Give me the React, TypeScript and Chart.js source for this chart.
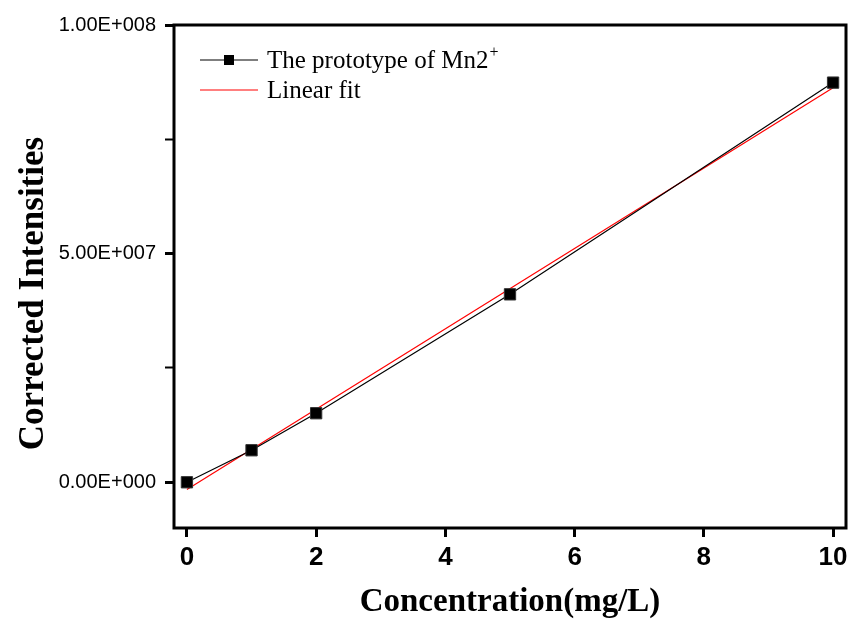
import { useEffect, useRef } from "react";
import { Chart, registerables } from "chart.js";

Chart.register(...registerables);

const concentrations = [0, 1, 2, 5, 10];
const intensities = [0, 7.0e6, 1.51e7, 4.11e7, 8.74e7];
const fitX = [0, 10];
const fitY = [-1.6e6, 8.63e7];
const xTicks = [0, 2, 4, 6, 8, 10];
const yTicks = [0, 2.5e7, 5e7, 7.5e7, 1e8];
const yLabeled = [0, 5e7, 1e8];
const seriesLabel = "The prototype of Mn2";
const seriesSup = "+";
const fitLabel = "Linear fit";
const xTitle = "Concentration(mg/L)";
const yTitle = "Corrected Intensities";

function fmtE(v: number): string {
  if (v === 0) return "0.00E+000";
  const exp = Math.floor(Math.log10(Math.abs(v)) + 1e-9);
  const mant = v / Math.pow(10, exp);
  return mant.toFixed(2) + "E" + (exp >= 0 ? "+" : "-") + String(Math.abs(exp)).padStart(3, "0");
}

const framePlugin = {
  id: "frameAndLegend",
  afterDraw(chart: any) {
    const { ctx, chartArea } = chart;
    const { left, top, right, bottom } = chartArea;
    ctx.save();
    ctx.strokeStyle = "#000";
    ctx.lineWidth = 3;
    ctx.strokeRect(left, top, right - left, bottom - top);

    const lx0 = left + 26;
    const lx1 = left + 84;
    const r1 = top + 35;
    const r2 = top + 65;
    ctx.lineWidth = 1.2;
    ctx.strokeStyle = "#000";
    ctx.beginPath();
    ctx.moveTo(lx0, r1);
    ctx.lineTo(lx1, r1);
    ctx.stroke();
    const mx = (lx0 + lx1) / 2;
    ctx.fillStyle = "#000";
    ctx.fillRect(mx - 5, r1 - 5, 10, 10);
    ctx.strokeStyle = "#ff0000";
    ctx.beginPath();
    ctx.moveTo(lx0, r2);
    ctx.lineTo(lx1, r2);
    ctx.stroke();

    ctx.fillStyle = "#000";
    ctx.font = "25px 'Liberation Serif'";
    ctx.textAlign = "left";
    ctx.textBaseline = "alphabetic";
    const tx = lx1 + 9;
    ctx.fillText(seriesLabel, tx, r1 + 8);
    const w = ctx.measureText(seriesLabel).width;
    ctx.font = "16px 'Liberation Serif'";
    ctx.fillText(seriesSup, tx + w + 1, r1 - 3);
    ctx.font = "25px 'Liberation Serif'";
    ctx.fillText(fitLabel, tx, r2 + 8);

    ctx.translate(43, (top + bottom) / 2 + 17);
    ctx.rotate(-Math.PI / 2);
    ctx.font = "bold 35px 'Liberation Serif'";
    ctx.textAlign = "center";
    ctx.fillText(yTitle, 0, 0);
    ctx.restore();
  },
};

export default function App() {
  const ref = useRef<HTMLCanvasElement | null>(null);
  useEffect(() => {
    if (!ref.current) return;
    const chart = new Chart(ref.current, {
      type: "scatter",
      data: {
        datasets: [
          {
            label: "data",
            data: concentrations.map((x, i) => ({ x, y: intensities[i] })),
            showLine: true,
            borderColor: "#000",
            borderWidth: 1.2,
            pointStyle: "rect",
            pointRadius: 8,
            pointBackgroundColor: "#000",
            pointBorderColor: "#333",
            pointBorderWidth: 1,
            order: 0,
          },
          {
            label: "fit",
            data: fitX.map((x, i) => ({ x, y: fitY[i] })),
            showLine: true,
            borderColor: "#ff0000",
            borderWidth: 1.2,
            pointRadius: 0,
            order: 1,
          },
        ],
      },
      options: {
        animation: false,
        responsive: false,
        layout: { padding: { left: 0, top: 25, right: 8, bottom: 0 } },
        plugins: { legend: { display: false }, tooltip: { enabled: false } },
        scales: {
          x: {
            type: "linear",
            min: -0.2,
            max: 10.2,
            afterFit: (s: any) => {
              s.height = 105;
            },
            afterBuildTicks: (s: any) => {
              s.ticks = xTicks.map((v) => ({ value: v }));
            },
            border: { display: false },
            grid: {
              drawOnChartArea: false,
              drawTicks: true,
              tickLength: 9,
              tickWidth: 3,
              tickColor: "#000",
            },
            ticks: {
              color: "#000",
              padding: 5,
              font: { family: "'Liberation Sans'", size: 26, weight: "bold" },
              callback: (v: any) => String(v),
            },
            title: {
              display: true,
              text: xTitle,
              color: "#000",
              font: { family: "'Liberation Serif'", size: 33, weight: "bold" },
              padding: { top: 0, bottom: 11 },
            },
          },
          y: {
            type: "linear",
            min: -1e7,
            max: 1e8,
            afterFit: (s: any) => {
              s.width = 174;
            },
            afterBuildTicks: (s: any) => {
              s.ticks = yTicks.map((v) => ({ value: v }));
            },
            border: { display: false },
            grid: {
              drawOnChartArea: false,
              drawTicks: true,
              tickLength: 9,
              tickWidth: (c: any) => (yLabeled.includes(c.tick?.value) ? 3 : 2),
              tickColor: "#000",
            },
            ticks: {
              color: "#000",
              padding: 9,
              font: { family: "'Liberation Sans'", size: 20 },
              callback: (v: any) => (yLabeled.includes(Number(v)) ? fmtE(Number(v)) : ""),
            },
          },
        },
      },
      plugins: [framePlugin],
    });
    return () => chart.destroy();
  }, []);
  return (
    <div style={{ position: "absolute", left: 0, top: 0, width: 855, height: 633, background: "#fff" }}>
      <canvas ref={ref} width={855} height={633} style={{ display: "block" }} />
    </div>
  );
}
